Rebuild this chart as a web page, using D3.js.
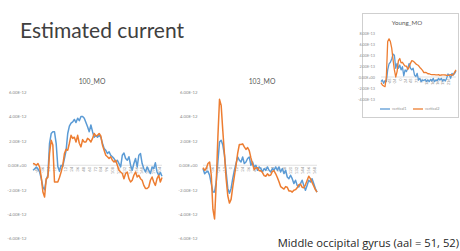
<!DOCTYPE html>
<html><head><meta charset="utf-8">
<script src="https://cdn.jsdelivr.net/npm/d3@7"></script>
<style>body{margin:0;background:#fff}svg{display:block}</style>
</head><body><svg id="c" width="460" height="251"></svg>
<script>
// ---------- DATA ----------
const mainTitle = "Estimated current";
const footnote = "Middle occipital gyrus (aal = 51, 52)";
const panelTitles = ["100_MO", "103_MO", "Young_MO"];
const seriesNames = ["vertical1", "vertical2"];

const yTicksMain = [6, 4, 2, 0, -2, -4, -6];           // ×1e-12
const yTickLabelsMain = ["6.00E-12","4.00E-12","2.00E-12","0.00E+00","-2.00E-12","-4.00E-12","-6.00E-12"];
const yTicksInset = [8, 6, 4, 2, 0, -2, -4];           // ×1e-13
const yTickLabelsInset = ["8.00E-13","6.00E-13","4.00E-13","2.00E-13","0.00E+00","-2.00E-13","-4.00E-13"];

const xLabels100 = ["-48","-36","-24","-12","0","12","24","36","48","60","72","84","96","108","120","132","144","156","168","180","192","204"];
const xLabels103 = ["-48","-36","-24","-12","0","12","24","36","48","60","72","84","96","108","120","132","144","156","168"];
const xLabelsYoung = ["-48","-24","0","24","48","72","96","120","144","168","192","216"];

// 100_MO (×1e-12)
const s100_blue = [-0.41,-0.3,-0.14,-0.3,-0.55,-1.1,-1.8,-2.0,-1.2,-0.8,1.8,2.6,2.74,2.74,1.8,-0.1,-0.5,0,-0.1,0.55,1.2,2.6,3.2,3.45,3.55,3.75,3.5,3.85,3.65,4.0,4.0,3.85,3.5,3.15,2.75,3.3,2.75,2.3,2.45,2.3,2.45,2.3,1.8,1.37,1.23,0.96,1.1,0.82,0.7,0.55,0.27,0.41,0.14,-0.14,0.82,1.0,0.55,0.41,0.7,0,-0.41,0.14,0.55,-0.14,0.82,0.96,0.14,-0.27,-0.55,-0.14,-0.41,-0.68,-0.14,-0.27,0.2,-0.55,-0.82,-0.6,-0.9];
const s100_orange = [0.14,0.1,0,0.14,-0.14,-1.0,-2.2,-2.6,-1.1,-1.0,0.96,2.05,1.65,-1.37,-1.37,-1.37,-1.0,-0.55,0,0.96,1.3,1.23,1.8,2.45,2.2,2.3,1.9,2.45,1.8,1.5,2.1,1.9,1.9,2.2,2.1,1.9,2.2,2.6,2.4,2.45,2.6,2.4,1.65,1.23,0.82,0.7,0.55,0.7,0.41,0.27,0.41,0,-0.41,-0.55,-0.68,-1.1,-0.68,-0.55,-1.1,-1.37,-1.23,-0.82,-0.55,-0.96,-0.82,-1.1,-1.23,-1.65,-1.9,-1.9,-1.78,-1.23,-0.96,-1.37,-1.65,-1.1,-0.82,-1.37,-1.0];

// 103_MO (×1e-12)
const s103_blue = [-0.27,-0.7,-0.55,-0.5,-0.82,-1.5,-2.2,-2.2,-1.37,0.27,1.9,2.05,1.65,0.82,-0.55,-1.9,-2.3,-1.9,-1.1,-0.41,0.14,0.68,0.41,0.27,0.68,0.14,0.27,0.55,0.68,0,0.27,-0.14,0,-0.41,-0.14,-0.27,-0.55,-0.27,-0.41,-0.14,-0.41,-0.55,-0.27,-0.41,-0.14,-0.41,-0.14,-0.55,-0.27,-0.68,-0.41,-0.96,-1.1,-0.82,-1.1,-1.5,-1.23,-1.65,-1.78,-1.5,-1.23,-1.65,-2.05,-1.65,-1.23,-1.37,-1.1,-1.5,-1.9,-2.2];
const s103_orange = [-0.2,-0.41,-0.27,0.14,0.27,-0.8,-3.6,-4.4,-1.5,2.3,5.4,4.9,2.8,0.9,-1.1,-2.5,-3.1,-2.8,-1.8,-0.9,0.0,1.0,1.7,1.7,1.75,1.5,1.3,1.45,1.2,0.6,0.1,-0.35,-0.2,-0.2,-0.45,-0.45,-0.6,-0.85,-0.9,-0.7,-0.85,-0.8,-0.5,-0.45,-0.7,-1.0,-1.35,-1.75,-1.85,-1.95,-1.75,-1.8,-2.1,-2.1,-2.2,-2.05,-2.0,-1.85,-1.6,-1.55,-1.8,-1.85,-1.6,-1.25,-0.9,-1.1,-1.4,-1.7,-2.0,-2.2];

// Young_MO (×1e-13)
const sYoung_blue = [-0.86,-0.55,-1.16,-0.67,-0.86,1.3,2.4,2.7,3.3,4.2,4.0,1.6,2.5,1.6,2.2,1.3,1.9,0.2,1.3,1.0,1.6,2.5,1.6,1.3,1.6,0.37,0.06,0.67,-0.55,-0.25,-0.86,-0.55,-0.67,-0.43,-0.86,-0.55,-0.86,-0.43,-0.73,-0.25,-0.86,-0.55,-0.67,-0.25,-0.55,-0.25,-0.73,-0.43,-0.73,-0.25,0.55,0.37,-0.25,0.67,0.37,0.67,1.1];
const sYoung_orange = [-1.04,-1.47,-1.65,-1.77,0.06,6.5,7.0,6.5,5.3,3.2,1.3,0.0,1.0,3.0,3.4,2.6,2.7,2.3,2.0,2.0,1.4,1.8,2.5,3.0,2.9,2.7,2.4,2.25,2.1,1.75,1.5,1.2,0.8,0.85,0.8,0.6,0.6,0.5,0.45,0.45,0.43,0.4,0.4,0.43,0.3,0.37,0.4,0.4,0.37,0.3,0.28,0.33,0.43,0.3,0.45,0.9,1.3];

// ---------- DRAW ----------
const BLUE = "#5b9bd5", ORANGE = "#ed7d31";
const svg = d3.select("#c");
const FONT = "Lato, 'Open Sans', sans-serif";

svg.append("text").attr("x", 20).attr("y", 37.5).text(mainTitle)
  .attr("font-family", FONT).attr("font-size", 21).attr("fill", "#404040");

svg.append("text").attr("x", 459).attr("y", 246.5).attr("text-anchor", "end").text(footnote)
  .attr("font-family", "'Open Sans', sans-serif").attr("font-size", 11.2).attr("font-weight", 400)
  .attr("fill", "#262626");

function panel(cfg) {
  const g = svg.append("g");
  const n = cfg.blue.length;
  const x = d3.scalePoint().domain(d3.range(n)).range([cfg.x0, cfg.x1]);
  const y = d3.scaleLinear().domain(cfg.yDomain).range([cfg.yBottom, cfg.yTop]);

  g.append("line").attr("x1", cfg.x0).attr("x2", cfg.x1)
    .attr("y1", y(0)).attr("y2", y(0)).attr("stroke", "#d9d9d9").attr("stroke-width", 0.8);

  const ya = d3.axisLeft(y).tickValues(cfg.yTicks).tickSize(0)
    .tickFormat((d, i) => cfg.yLabels[i]);
  const yg = g.append("g").attr("transform", `translate(${cfg.yLabelX},0)`).call(ya);
  yg.select(".domain").remove();
  yg.selectAll("text").attr("font-family", FONT).attr("font-size", cfg.tickFont)
    .attr("fill", "#8c8c8c").attr("dx", 0);

  const xl = d3.scalePoint().domain(cfg.xLabels).range([cfg.x0 + cfg.xlPad, cfg.x1 - cfg.xlPad]);
  const xa = d3.axisBottom(xl).tickSize(0).tickPadding(1);
  const xg = g.append("g").attr("transform", `translate(0,${y(0)})`).call(xa);
  xg.select(".domain").remove();
  xg.selectAll("text").attr("font-family", FONT).attr("font-size", cfg.tickFont)
    .attr("fill", "#9a9a9a").attr("transform", "rotate(-90)")
    .attr("text-anchor", "end").attr("x", -1.5).attr("y", 0).attr("dy", "0.35em");

  const line = d3.line().x((d, i) => x(i)).y(d => y(d));
  [[cfg.blue, BLUE], [cfg.orange, ORANGE]].forEach(([data, col]) => {
    g.append("path").datum(data).attr("d", line).attr("fill", "none")
      .attr("stroke", col).attr("stroke-width", cfg.lw).attr("stroke-linejoin", "round");
  });

  g.append("text").attr("x", cfg.titleX).attr("y", cfg.titleY).attr("text-anchor", "middle")
    .text(cfg.title).attr("font-family", FONT).attr("font-size", cfg.titleFont).attr("fill", "#595959");
  return {x, y};
}

panel({blue: s100_blue, orange: s100_orange, x0: 33, x1: 162, yDomain: [-6, 6],
  yBottom: 238.5, yTop: 92, yTicks: yTicksMain, yLabels: yTickLabelsMain, yLabelX: 29.5,
  xLabels: xLabels100, xlPad: 3, tickFont: 4.3, lw: 1.5, title: panelTitles[0],
  titleX: 92, titleY: 84, titleFont: 6.8});

panel({blue: s103_blue, orange: s103_orange, x0: 203, x1: 317, yDomain: [-6, 6],
  yBottom: 238.5, yTop: 92, yTicks: yTicksMain, yLabels: yTickLabelsMain, yLabelX: 200.5,
  xLabels: xLabels103, xlPad: 3, tickFont: 4.3, lw: 1.5, title: panelTitles[1],
  titleX: 262, titleY: 84, titleFont: 6.8});

svg.append("rect").attr("x", 362.5).attr("y", 13.5).attr("width", 96).attr("height", 104)
  .attr("fill", "#fff").attr("stroke", "#cfcfcf").attr("stroke-width", 1);

panel({blue: sYoung_blue, orange: sYoung_orange, x0: 381, x1: 456, yDomain: [-4, 8],
  yBottom: 98.8, yTop: 33.4, yTicks: yTicksInset, yLabels: yTickLabelsInset, yLabelX: 378,
  xLabels: xLabelsYoung, xlPad: 8, tickFont: 3.8, lw: 1.3, title: panelTitles[2],
  titleX: 407, titleY: 24.5, titleFont: 6.2});

const leg = svg.append("g");
[[BLUE, 380, seriesNames[0]], [ORANGE, 413, seriesNames[1]]].forEach(([col, lx, name]) => {
  leg.append("line").attr("x1", lx).attr("x2", lx + 10).attr("y1", 109).attr("y2", 109)
    .attr("stroke", col).attr("stroke-width", 1.3);
  leg.append("text").attr("x", lx + 12).attr("y", 110.3).text(name)
    .attr("font-family", FONT).attr("font-size", 3.8).attr("fill", "#8c8c8c");
});
</script></body></html>
